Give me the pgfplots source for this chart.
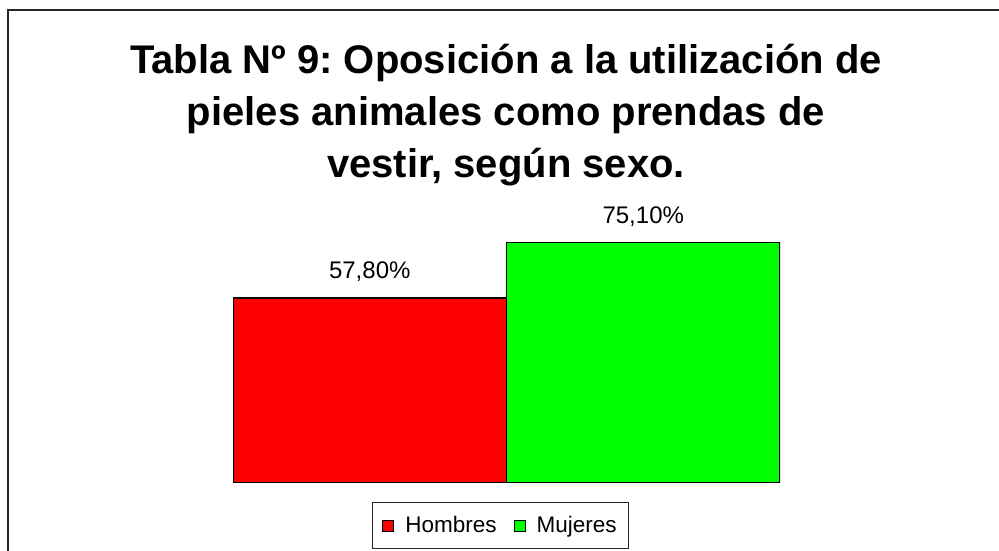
\documentclass[border=0pt]{standalone}
\usepackage{pgfplots}
\pgfplotsset{compat=1.18}
\usepackage{fontspec}
\setmainfont{Liberation Sans}
\frenchspacing
\begin{document}
\begin{tikzpicture}[x=1pt,y=1pt]
\useasboundingbox (0,0) rectangle (999,551);
\draw[line width=1.4pt, black!85] (8,-5) -- (8,541) -- (1005,541);
\begin{axis}[
 at={(233pt,68pt)}, anchor=south west,
 scale only axis, width=547pt, height=320pt,
 xmin=-0.5, xmax=1.5, ymin=0, ymax=100,
 hide axis,
 ybar, bar width=1, bar shift=0pt,
 point meta=explicit symbolic,
 nodes near coords,
 every node near coord/.append style={font=\fontsize{24}{24}\selectfont, inner sep=0pt, text depth=0pt, yshift=19pt},
 legend columns=2,
 legend style={at={(axis description cs:0.489,-0.1328)}, anchor=center, draw=black!85, line width=0.9pt,
   font=\fontsize{22.5}{27}\selectfont, inner xsep=10pt, inner ysep=12.5pt,
   /tikz/every even column/.append style={column sep=15pt}},
 legend image code/.code={\draw[#1, line width=0.9pt] (0pt,-5.5pt) rectangle (11pt,5.5pt); \path (20pt,0pt);},
]
\addplot[fill=red, draw=black, line width=1.2pt] coordinates {(0,57.8) [57,80\%]};
\addplot[fill=green, draw=black, line width=1.2pt] coordinates {(1,75.1) [75,10\%]};
\legend{Hombres, Mujeres}
\end{axis}
\begin{scope}[every node/.style={font=\fontsize{40}{52}\selectfont\bfseries, anchor=base, inner sep=0pt}]
\node at (506,477) {Tabla Nº 9: Oposición a la utilización de};
\node at (506,425) {pieles animales como prendas de};
\node at (506,373) {vestir, según sexo.};
\end{scope}
\end{tikzpicture}
\end{document}
